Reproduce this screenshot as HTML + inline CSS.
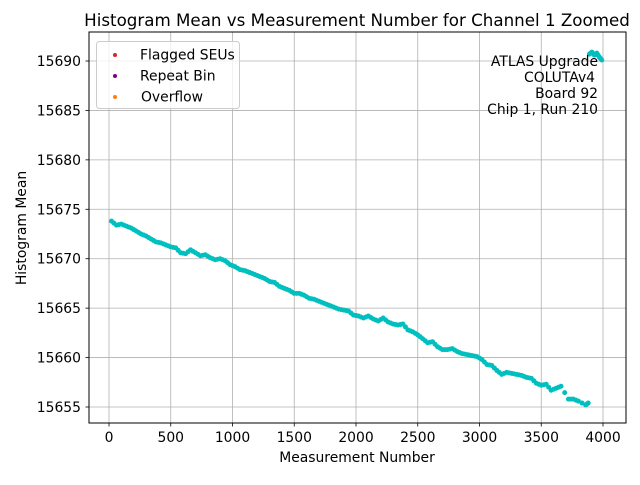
<!DOCTYPE html>
<html><head><meta charset="utf-8"><style>
body{margin:0;background:#fff}
svg{font-family:"DejaVu Sans","Liberation Sans",sans-serif}
</style></head><body>
<svg id="c" width="640" height="480" viewBox="0 0 640 480">
<rect width="640" height="480" fill="#fff"/>
<g id="grid"></g>
<g id="pts"></g>
<rect x="89" y="32" width="537" height="391" fill="none" stroke="#000" stroke-width="1"/>
<g id="ticks"></g>
<text x="357" y="26" font-size="16.7" text-anchor="middle">Histogram Mean vs Measurement Number for Channel 1 Zoomed</text>
<text x="357" y="462" font-size="13.9" text-anchor="middle">Measurement Number</text>
<text transform="translate(26,228) rotate(-90)" font-size="13.9" text-anchor="middle">Histogram Mean</text>
<g>
<rect x="96.5" y="41.5" width="143" height="67" rx="3" fill="#fff" fill-opacity="0.8" stroke="#ccc"/>
<circle cx="115" cy="55" r="2" fill="#d62728"/>
<text x="140" y="59.5" font-size="13.9">Flagged SEUs</text>
<circle cx="115" cy="76" r="2" fill="#800080"/>
<text x="140" y="80.5" font-size="13.9">Repeat Bin</text>
<circle cx="115" cy="97" r="2" fill="#ff7f0e"/>
<text x="141" y="101.5" font-size="13.9">Overflow</text>
</g>
<g font-size="13.9" text-anchor="end">
<text x="598" y="66">ATLAS Upgrade</text>
<text x="595" y="82">COLUTAv4</text>
<text x="598" y="98">Board 92</text>
<text x="598" y="114">Chip 1, Run 210</text>
</g>
</svg>
<script>
const xVals=[20,60,100,140,180,220,260,300,340,380,420,460,500,540,580,620,660,700,740,780,820,860,900,940,980,1020,1060,1100,1140,1180,1220,1260,1300,1340,1380,1420,1460,1500,1540,1580,1620,1660,1700,1740,1780,1820,1860,1900,1940,1980,2020,2060,2100,2140,2180,2220,2260,2300,2340,2380,2420,2460,2500,2540,2580,2620,2660,2700,2740,2780,2820,2860,2900,2940,2980,3020,3060,3100,3140,3180,3220,3260,3300,3340,3380,3420,3460,3500,3540,3580,3620,3660,3720,3760,3800,3860,3880,3890,3910,3930,3950,3970,3990];
const yVals=[15673.8,15673.4,15673.5,15673.3,15673.1,15672.8,15672.5,15672.3,15672.0,15671.7,15671.6,15671.4,15671.2,15671.1,15670.6,15670.5,15670.9,15670.6,15670.3,15670.4,15670.1,15669.9,15670.0,15669.8,15669.4,15669.2,15668.9,15668.8,15668.6,15668.4,15668.2,15668.0,15667.7,15667.6,15667.2,15667.0,15666.8,15666.5,15666.5,15666.3,15666.0,15665.9,15665.7,15665.5,15665.3,15665.1,15664.9,15664.8,15664.7,15664.3,15664.2,15664.0,15664.2,15663.9,15663.7,15664.0,15663.6,15663.4,15663.3,15663.4,15662.8,15662.6,15662.3,15661.9,15661.5,15661.6,15661.1,15660.8,15660.8,15660.9,15660.6,15660.4,15660.3,15660.2,15660.1,15659.8,15659.3,15659.2,15658.7,15658.3,15658.5,15658.4,15658.3,15658.2,15658.0,15657.9,15657.4,15657.2,15657.3,15656.7,15656.9,15657.1,15655.8,15655.8,15655.6,15655.2,15655.4,15690.7,15690.9,15690.6,15690.8,15690.4,15690.1];
const xTicks=[0,500,1000,1500,2000,2500,3000,3500,4000];
const yTicks=[15655,15660,15665,15670,15675,15680,15685,15690];
const X=v=>109+v*(494/4000);
const Y=v=>407-(v-15655)*(346/35);
const NS='http://www.w3.org/2000/svg';
const grid=document.getElementById('grid'),tk=document.getElementById('ticks'),pts=document.getElementById('pts');
function mk(t,a,p){const e=document.createElementNS(NS,t);for(const k in a)e.setAttribute(k,a[k]);p.appendChild(e);return e;}
xTicks.forEach(v=>{const x=X(v);
const g=mk('line',{x1:x,x2:x,y1:32,y2:423,stroke:'#b0b0b0','stroke-width':0.8},grid);


const l=mk('line',{x1:x,x2:x,y1:423,y2:426.5,stroke:'#000','stroke-width':0.8},tk);


const t=mk('text',{x:x,y:442,'font-size':13.9,'text-anchor':'middle'},tk);t.textContent=v;

});
yTicks.forEach(v=>{const y=Y(v);
const g=mk('line',{x1:89,x2:626,y1:y,y2:y,stroke:'#b0b0b0','stroke-width':0.8},grid);


const l=mk('line',{x1:85.5,x2:89,y1:y,y2:y,stroke:'#000','stroke-width':0.8},tk);


const t=mk('text',{x:81,y:y+5,'font-size':13.9,'text-anchor':'end'},tk);t.textContent=v;

});
xVals.forEach((v,i)=>{
const c=mk('circle',{cx:X(v),cy:Y(yVals[i]),r:2.5,fill:'#00bfbf'},pts);


if(i<xVals.length-1&&xVals[i+1]-v<=60&&Math.abs(yVals[i+1]-yVals[i])<3){
const m=mk('circle',{cx:X((v+xVals[i+1])/2),cy:Y((yVals[i]+yVals[i+1])/2),r:2.5,fill:'#00bfbf'},pts);

}
});
</script>
</body></html>
